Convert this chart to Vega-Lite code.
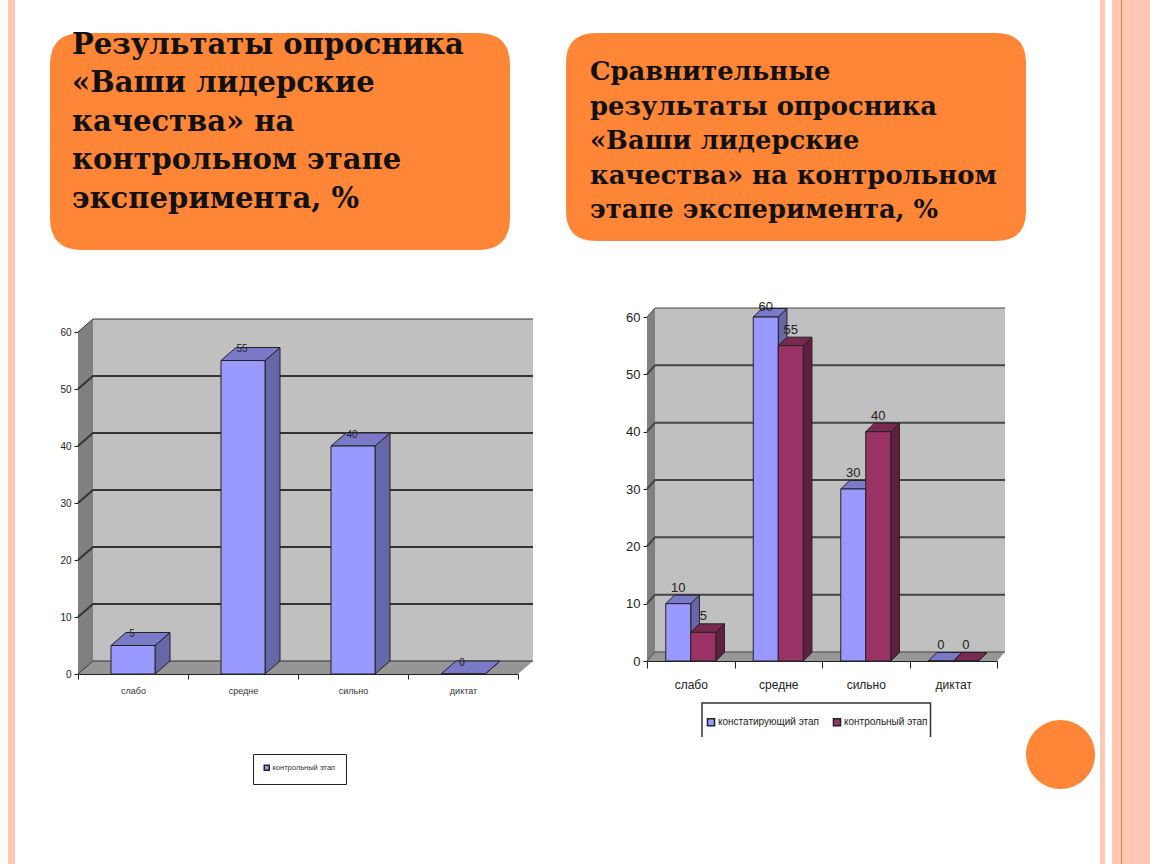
{
"$schema":"https://vega.github.io/schema/vega-lite/v6.json",
"background":"white","padding":0,"spacing":0,"bounds":"flush","autosize":{"type":"pad"},
"resolve":{"scale":{"fill":"independent"},"legend":{"fill":"independent"}},
"config":{"view":{"stroke":null},"font":"Liberation Sans"},
"datasets":{
"page":[{"cat":"слабо","v":0}],
"grid":[{"cat":"слабо","v":0},{"cat":"слабо","v":10},{"cat":"слабо","v":20},{"cat":"слабо","v":30},{"cat":"слабо","v":40},{"cat":"слабо","v":50},{"cat":"слабо","v":60}],
"wall":[{"cat":"слабо","v":0,"part":"back"},{"cat":"слабо","v":0,"part":"side"},{"cat":"слабо","v":0,"part":"floor"},{"cat":"слабо","v":0,"part":"box"},{"cat":"слабо","v":0,"part":"stripe"},{"cat":"слабо","v":0,"part":"circle"},{"cat":"слабо","v":0,"part":"line"}],
"left":[{"cat":"слабо","series":"контрольный этап","v":5},{"cat":"средне","series":"контрольный этап","v":55},{"cat":"сильно","series":"контрольный этап","v":40},{"cat":"диктат","series":"контрольный этап","v":0}],
"right":[{"cat":"слабо","series":"констатирующий этап","v":10},{"cat":"средне","series":"констатирующий этап","v":60},{"cat":"сильно","series":"констатирующий этап","v":30},{"cat":"диктат","series":"констатирующий этап","v":0},{"cat":"слабо","series":"контрольный этап","v":5},{"cat":"средне","series":"контрольный этап","v":55},{"cat":"сильно","series":"контрольный этап","v":40},{"cat":"диктат","series":"контрольный этап","v":0}],
"leftTitle":[{"cat":"слабо","v":0,"text":"Результаты опросника\n«Ваши лидерские\nкачества» на\nконтрольном  этапе\nэксперимента, %"}],
"rightTitle":[{"cat":"слабо","v":0,"text":"Сравнительные\nрезультаты опросника\n«Ваши лидерские\nкачества» на контрольном\nэтапе эксперимента, %"}]
},
"hconcat":[
{"width":560,"height":864,
"encoding":{
"x":{"field":"cat","type":"nominal","title":null,"sort":null,"scale":{"domain":["слабо","средне","сильно","диктат"],"range":[78,518],"paddingInner":0,"paddingOuter":0},
"axis":{"offset":-190,"tickBand":"extent","labelAngle":0,"labelFontSize":9,"labelColor":"#333","labelPadding":7,"tickSize":5,"domainColor":"#222","tickColor":"#222"}},
"y":{"field":"v","type":"quantitative","title":null,"scale":{"domain":[0,60],"range":[674,332],"nice":false},
"axis":{"offset":-78,"values":[0,10,20,30,40,50,60],"grid":false,"labelFontSize":10,"labelColor":"#222","labelPadding":3,"tickSize":4,"domainColor":"#222","tickColor":"#222"}}
},
"layer":[
{"data":{"name":"wall"},"transform":[{"filter":"datum.part!='circle' && datum.part!='line'"}],
"mark":{"type":"point","filled":true,"opacity":1,"size":4,"strokeWidth":0},
"encoding":{
"fill":{"condition":[{"test":"datum.part=='back'","value":"#C0C0C0"},{"test":"datum.part=='side'","value":"#808080"},{"test":"datum.part=='floor'","value":"#969696"},{"test":"datum.part=='box'","value":"#FF8636"}],"value":"#FFC8B4"},
"shape":{"condition":[
{"test":"datum.part=='back'","value":"M-40,-355L400,-355L400,-13L-40,-13Z"},
{"test":"datum.part=='side'","value":"M-55,0L-40,-13L-40,-355L-55,-342Z"},
{"test":"datum.part=='floor'","value":"M-55,0L-40,-13L400,-13L385,0Z"},
{"test":"datum.part=='box'","value":"M-51,-641L345,-641Q377,-641 377,-609L377,-456Q377,-424 345,-424L-51,-424Q-83,-424 -83,-456L-83,-609Q-83,-641 -51,-641Z"}],
"value":"M-125,-674L-118,-674L-118,190L-125,190Z"}}},
{"data":{"name":"grid"},"mark":{"type":"point","filled":false,"opacity":1,"size":4,"stroke":"#333"},
"encoding":{"shape":{"value":"M-55,0L-40,-13L400,-13"},"strokeWidth":{"condition":{"test":"datum.v==0 || datum.v==60","value":1},"value":2}}},
{"data":{"name":"left"},"mark":{"type":"point","filled":true,"opacity":1,"size":4,"stroke":"#222","strokeWidth":1,"fill":"#6666A8"},
"encoding":{"shape":{"condition":[
{"test":"datum.v==5","value":"M22,0L37,-13L37,15.5L22,28.5Z"},
{"test":"datum.v==40","value":"M22,0L37,-13L37,215L22,228Z"},
{"test":"datum.v==55","value":"M22,0L37,-13L37,300.5L22,313.5Z"}],"value":"M22,0L37,-13L37,-13L22,0Z"}}},
{"data":{"name":"left"},"mark":{"type":"point","filled":true,"opacity":1,"size":4,"stroke":"#222","strokeWidth":1,"fill":"#7A7AC8"},
"encoding":{"shape":{"value":"M-22,0L-7,-13L37,-13L22,0Z"}}},
{"data":{"name":"left"},"mark":{"type":"bar","width":44,"stroke":"#222","strokeWidth":1},
"encoding":{"fill":{"field":"series","type":"nominal","scale":{"domain":["контрольный этап"],"range":["#9999FF"]},
"legend":{"orient":"none","legendX":253,"legendY":754,"title":null,"fillColor":"white","strokeColor":"#222","padding":10,"symbolType":"square","symbolSize":25,"labelFontSize":7.5,"labelColor":"#333","labelOffset":2}}}},
{"data":{"name":"left"},"mark":{"type":"text","fontSize":10,"color":"#222","dy":-11.5,"dx":-1},"encoding":{"text":{"field":"v","type":"quantitative"}}},
{"data":{"name":"leftTitle"},"mark":{"type":"text","font":"DejaVu Serif","fontWeight":"bold","fontSize":29,"color":"#111","align":"left","baseline":"alphabetic","lineBreak":"\n","lineHeight":38.5,"dx":-61,"dy":-620.5},"encoding":{"text":{"field":"text"}}}
]},
{"width":590,"height":864,
"encoding":{
"x":{"field":"cat","type":"nominal","title":null,"sort":null,"scale":{"domain":["слабо","средне","сильно","диктат"],"range":[87,437],"paddingInner":0,"paddingOuter":0},
"axis":{"offset":-203,"tickBand":"extent","labelAngle":0,"labelFontSize":12,"labelColor":"#222","labelPadding":11,"tickSize":7,"domainColor":"#222","tickColor":"#222"}},
"y":{"field":"v","type":"quantitative","title":null,"scale":{"domain":[0,60],"range":[661,317],"nice":false},
"axis":{"offset":-87,"values":[0,10,20,30,40,50,60],"grid":false,"labelFontSize":13,"labelColor":"#222","labelPadding":3,"tickSize":4,"domainColor":"#222","tickColor":"#222"}}
},
"layer":[
{"data":{"name":"wall"},"transform":[{"filter":"datum.part!='line'"}],
"mark":{"type":"point","filled":true,"opacity":1,"size":4,"strokeWidth":0},
"encoding":{
"fill":{"condition":[{"test":"datum.part=='back'","value":"#C0C0C0"},{"test":"datum.part=='side'","value":"#808080"},{"test":"datum.part=='floor'","value":"#969696"},{"test":"datum.part=='box' || datum.part=='circle'","value":"#FF8636"}],"value":"#FFC8B4"},
"shape":{"condition":[
{"test":"datum.part=='back'","value":"M-35.75,-353L314.25,-353L314.25,-9L-35.75,-9Z"},
{"test":"datum.part=='side'","value":"M-43.75,0L-35.75,-9L-35.75,-353L-43.75,-344Z"},
{"test":"datum.part=='floor'","value":"M-43.75,0L-35.75,-9L314.25,-9L306.25,0Z"},
{"test":"datum.part=='box'","value":"M-94.75,-628L305.25,-628Q335.25,-628 335.25,-598L335.25,-450Q335.25,-420 305.25,-420L-94.75,-420Q-124.75,-420 -124.75,-450L-124.75,-598Q-124.75,-628 -94.75,-628Z"},
{"test":"datum.part=='circle'","value":"M335.25,93.5A34.5,34.5 0 1,1 404.25,93.5A34.5,34.5 0 1,1 335.25,93.5Z"}],
"value":"M409.25,-661L414.25,-661L414.25,203L409.25,203ZM421.25,-661L459.25,-661L459.25,203L421.25,203Z"}}},
{"data":{"name":"wall"},"transform":[{"filter":"datum.part=='line'"}],
"mark":{"type":"point","filled":true,"opacity":1,"size":4,"strokeWidth":0,"fill":"#E8863C"},
"encoding":{"shape":{"value":"M430.25,-661L431.25,-661L431.25,203L430.25,203Z"}}},
{"data":{"name":"grid"},"mark":{"type":"point","filled":false,"opacity":1,"size":4,"stroke":"#444"},
"encoding":{"shape":{"value":"M-43.75,0L-35.75,-9L314.25,-9"},"strokeWidth":{"condition":{"test":"datum.v==0 || datum.v==60","value":1},"value":2}}},
{"data":{"name":"page"},"mark":{"type":"point","filled":false,"opacity":1,"size":4,"stroke":"#333","strokeWidth":1.5},
"encoding":{"shape":{"value":"M11.25,76L11.25,42L239.75,42L239.75,76"}}},
{"data":{"name":"right"},"mark":{"type":"point","filled":true,"opacity":1,"size":4,"stroke":"#222","strokeWidth":1},
"encoding":{"xOffset":{"field":"series","type":"nominal","sort":null,"scale":{"paddingInner":0,"paddingOuter":0.75}},
"fill":{"condition":{"test":"datum.series=='контрольный этап'","value":"#5E1F40"},"value":"#6666A8"},
"shape":{"condition":[
{"test":"datum.v==5","value":"M12.5,0L21.2,-8.5L21.2,20.2L12.5,28.7Z"},
{"test":"datum.v==10","value":"M12.5,0L21.2,-8.5L21.2,48.8L12.5,57.3Z"},
{"test":"datum.v==30","value":"M12.5,0L21.2,-8.5L21.2,163.5L12.5,172Z"},
{"test":"datum.v==40","value":"M12.5,0L21.2,-8.5L21.2,220.8L12.5,229.3Z"},
{"test":"datum.v==55","value":"M12.5,0L21.2,-8.5L21.2,306.8L12.5,315.3Z"},
{"test":"datum.v==60","value":"M12.5,0L21.2,-8.5L21.2,335.5L12.5,344Z"}],"value":"M12.5,0L21.2,-8.5L21.2,-8.5L12.5,0Z"}}},
{"data":{"name":"right"},"mark":{"type":"point","filled":true,"opacity":1,"size":4,"stroke":"#222","strokeWidth":1},
"encoding":{"xOffset":{"field":"series","type":"nominal","sort":null,"scale":{"paddingInner":0,"paddingOuter":0.75}},
"fill":{"condition":{"test":"datum.series=='контрольный этап'","value":"#7A2950"},"value":"#7A7AC8"},
"shape":{"value":"M-12.5,0L-3.8,-8.5L21.2,-8.5L12.5,0Z"}}},
{"data":{"name":"right"},"mark":{"type":"bar","stroke":"#222","strokeWidth":1},
"encoding":{"xOffset":{"field":"series","type":"nominal","sort":null,"scale":{"paddingInner":0,"paddingOuter":0.75}},
"fill":{"field":"series","type":"nominal","sort":null,"scale":{"domain":["констатирующий этап","контрольный этап"],"range":["#9999FF","#993366"]},
"legend":{"orient":"none","legendX":142,"legendY":713,"title":null,"columns":2,"columnPadding":10,"padding":4,"symbolType":"square","symbolSize":50,"labelFontSize":10,"labelColor":"#222","labelOffset":2,"symbolStrokeColor":"#222"}}}},
{"data":{"name":"right"},"transform":[{"filter":"datum.v<60"}],"mark":{"type":"text","fontSize":13,"color":"#222","dy":-16},
"encoding":{"xOffset":{"field":"series","type":"nominal","sort":null,"scale":{"paddingInner":0,"paddingOuter":0.75}},"text":{"field":"v","type":"quantitative"}}},
{"data":{"name":"right"},"transform":[{"filter":"datum.v==60"}],"mark":{"type":"text","fontSize":13,"color":"#222","dy":-10},
"encoding":{"xOffset":{"field":"series","type":"nominal","sort":null,"scale":{"paddingInner":0,"paddingOuter":0.75}},"text":{"field":"v","type":"quantitative"}}},
{"data":{"name":"rightTitle"},"mark":{"type":"text","font":"DejaVu Serif","fontWeight":"bold","fontSize":25.8,"color":"#111","align":"left","baseline":"alphabetic","lineBreak":"\n","lineHeight":34.5,"dx":-100.75,"dy":-581},"encoding":{"text":{"field":"text"}}}
]}
]
}
